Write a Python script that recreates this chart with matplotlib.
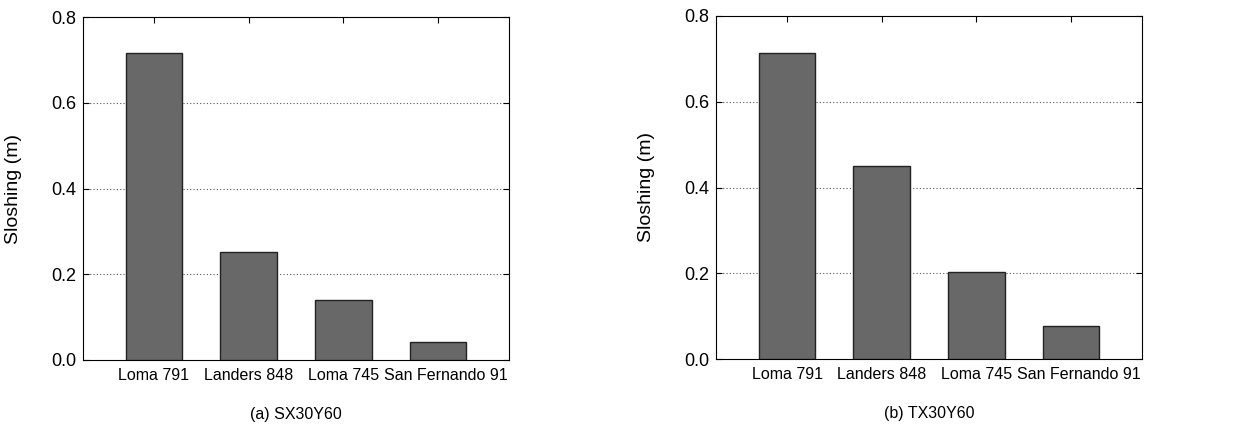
import numpy as np
import matplotlib.pyplot as plt
from matplotlib.transforms import ScaledTranslation

plt.rcParams['font.family'] = ['Liberation Sans', 'DejaVu Sans']

quakes = ['Loma 791', 'Landers 848', 'Loma 745', 'San Fernando 91']
sx30y60 = [0.715, 0.251, 0.140, 0.043]
tx30y60 = [0.713, 0.450, 0.202, 0.077]
captions = ['(a) SX30Y60', '(b) TX30Y60']
y_ticks = [0.0, 0.2, 0.4, 0.6, 0.8]

fig = plt.figure(figsize=(12.59, 4.29), dpi=100)
W, H = 1259., 429.
boxes = [(83, 17, 426, 343), (716, 16, 426, 343)]

for box, vals, cap in zip(boxes, [sx30y60, tx30y60], captions):
    x0, y0, w, h = box
    ax = fig.add_axes([x0 / W, 1 - (y0 + h) / H, w / W, h / H])
    x = np.arange(1, len(quakes) + 1)
    ax.bar(x, vals, width=0.6, color='#686868', edgecolor='#222222', linewidth=1.0, zorder=3)
    ax.set_xlim(0.25, 4.75)
    ax.set_ylim(0, 0.8)
    ax.set_xticks(x)
    ax.set_xticklabels(quakes, fontsize=11.5)
    ax.set_yticks(y_ticks)
    ax.set_yticklabels(['%.1f' % v for v in y_ticks], fontsize=13)
    ax.tick_params(direction='in', top=True, right=True, length=4, width=0.8)
    ax.tick_params(axis='x', pad=6)
    ax.tick_params(axis='y', pad=5)
    # last label sits a bit right of its tick in the original
    lab = ax.get_xticklabels()[-1]
    lab.set_transform(lab.get_transform() + ScaledTranslation(0.08, 0, fig.dpi_scale_trans))
    for g in [0.2, 0.4, 0.6]:
        ax.axhline(g, color='#555555', linestyle=(0, (1, 2)), linewidth=0.8, zorder=1)
    for s in ax.spines.values():
        s.set_linewidth(0.8)
    ax.set_ylabel('Sloshing (m)', fontsize=14)
    ax.yaxis.set_label_coords(-0.143, 0.5)
    ax.text(0.5, -0.160, cap, transform=ax.transAxes, ha='center', va='center', fontsize=11.5)

fig.savefig('out.png', dpi=100)
